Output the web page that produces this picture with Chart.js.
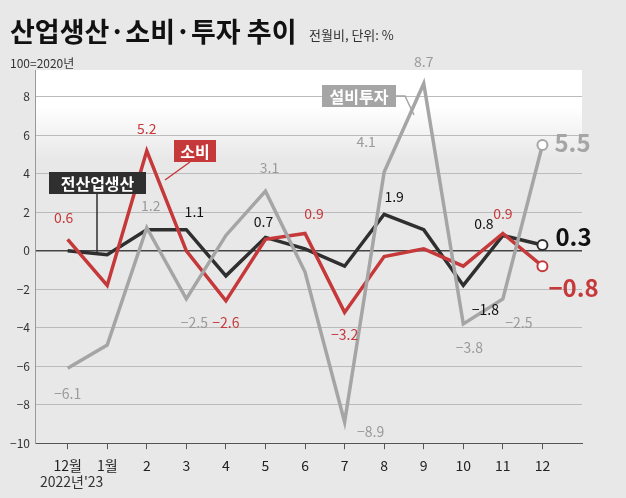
<!DOCTYPE html>
<html><head><meta charset="utf-8">
<script src="https://cdn.jsdelivr.net/npm/chart.js@4"></script>
<style>html,body{margin:0;padding:0;background:#e8e8e8;}#w{position:relative;width:626px;height:498px;}canvas{position:absolute;left:0;top:0}</style>
</head><body><div id="w"><canvas id="c" width="626" height="498"></canvas></div>
<script>
const categories=['12월','1월','2','3','4','5','6','7','8','9','10','11','12'];
const production=[0.0,-0.2,1.1,1.1,-1.3,0.7,0.1,-0.8,1.9,1.1,-1.8,0.8,0.3];
const consumption=[0.6,-1.8,5.2,0.0,-2.6,0.6,0.9,-3.2,-0.3,0.1,-0.8,0.9,-0.8];
const investment=[-6.1,-4.9,1.2,-2.5,0.8,3.1,-1.1,-8.9,4.1,8.7,-3.8,-2.5,5.5];
const yTicks=[-10,-8,-6,-4,-2,0,2,4,6,8];
const C={prod:'#2f2f2f',cons:'#c6393b',inv:'#a5a5a5'};
const F='"Noto Sans CJK KR","Noto Sans",sans-serif';
const labInv=[[0,0,26],[2,4,-22],[3,8,24],[5,4,-24],[8,-18,-30],[9,0,-22],[7,26,10],[10,6,24],[11,16,24]];
const labCons=[[0,-4,-22],[2,0,-22],[4,0,22],[6,9,-20],[7,0,22],[11,0,-20]];
const labProd=[[3,8,-18],[5,-2,-16],[8,10,-18],[11,-19,-12],[10,22,24]];
const pts=d=>d.map((v,i)=>({x:i,y:v}));
const ds=(d,c)=>({data:pts(d),borderColor:c,borderWidth:3.5,pointRadius:d.map((v,i)=>i===d.length-1?5:0),pointBackgroundColor:'#fff',pointBorderColor:c,pointBorderWidth:2,tension:0});
const deco={id:'deco',
beforeDraw(ch){const {ctx,chartArea:a}=ch;ctx.save();
 const g=ctx.createLinearGradient(0,a.top,0,a.top+90);g.addColorStop(0,'#ffffff');g.addColorStop(0.4,'#ffffff');g.addColorStop(1,'#e8e8e8');
 ctx.fillStyle=g;ctx.fillRect(a.left,a.top,a.right-a.left,90);
 ctx.fillStyle='#111';ctx.font='bold 27px '+F;ctx.textBaseline='alphabetic';ctx.fillText('산업생산·소비·투자 추이',10,42);
 ctx.font='13px '+F;ctx.fillStyle='#333';ctx.fillText('전월비, 단위: %',309,40);
 ctx.font='12px '+F;ctx.fillText('100=2020년',10,68);
 ctx.font='14px '+F;ctx.fillText('2022년\'23',40,487);
 ctx.restore();},
afterDatasetsDraw(ch){const {ctx}=ch;const xs=ch.scales.x,ys=ch.scales.y;ctx.save();
 const X=i=>xs.getPixelForValue(i),Y=v=>ys.getPixelForValue(v);
 const fmt=v=>(v<0?'−':'')+Math.abs(v).toFixed(1);
 ctx.textAlign='center';ctx.textBaseline='middle';ctx.font='14px '+F;
 const draw=(L,d,c)=>{ctx.fillStyle=c;L.forEach(([i,dx,dy])=>ctx.fillText(fmt(d[i]),X(i)+dx,Y(d[i])+dy));};
 draw(labInv,investment,'#9a9a9a');draw(labCons,consumption,C.cons);draw(labProd,production,'#111');
 ctx.textAlign='left';ctx.font='bold 24px "Liberation Sans Narrow",'+F;
 const n=12;ctx.fillStyle='#111';ctx.fillText(fmt(production[n]),X(n)+13,Y(production[n])-8);
 ctx.fillStyle=C.cons;ctx.fillText(fmt(consumption[n]),X(n)+6,Y(consumption[n])+22);
 ctx.fillStyle=C.inv;ctx.fillText(fmt(investment[n]),X(n)+12,Y(investment[n])-2);
 const box=(t,x,y,w,c,lx1,ly1,lx2,ly2,lx3,ly3)=>{ctx.strokeStyle=c;ctx.lineWidth=1.5;ctx.beginPath();ctx.moveTo(lx1,ly1);ctx.lineTo(lx2,ly2);if(lx3!==undefined)ctx.lineTo(lx3,ly3);ctx.stroke();
  ctx.fillStyle=c;ctx.fillRect(x,y,w,22);ctx.fillStyle='#fff';ctx.font='bold 16px '+F;ctx.textAlign='center';ctx.fillText(t,x+w/2,y+11.5);};
 box('설비투자',322,85,74,C.inv,396,96,405,96,414,115);
 box('소비',174,140,42,C.cons,190,162,165,180);
 box('전산업생산',49,172,97,C.prod,97,194,97,255);
 ctx.restore();}};
new Chart(document.getElementById('c'),{type:'line',
data:{datasets:[ds(investment,C.inv),ds(consumption,C.cons),ds(production,C.prod)]},
options:{responsive:false,animation:false,events:[],layout:{padding:{top:70,left:4,right:44,bottom:16}},
plugins:{legend:{display:false},tooltip:{enabled:false}},
scales:{x:{type:'linear',min:-0.8,max:13.0,afterBuildTicks:s=>{s.ticks=categories.map((c,i)=>({value:i}));},
 ticks:{callback:v=>categories[v],color:'#222',font:{size:14,family:F},padding:8},
 grid:{drawOnChartArea:false,drawTicks:true,tickLength:6,color:'#555'},border:{color:'#555'}},
 y:{min:-10,max:9.4,afterBuildTicks:s=>{s.ticks=yTicks.map(v=>({value:v}));},
 ticks:{callback:v=>v<0?'−'+(-v):v,color:'#333',font:{size:12,family:F},padding:6},
 grid:{color:c=>c.tick.value===0?'#444':'#bbb',lineWidth:c=>c.tick.value===0?1.5:1,drawTicks:false},
 border:{display:true,color:'#999',dash:[]}}}},
plugins:[deco]});
</script></body></html>
